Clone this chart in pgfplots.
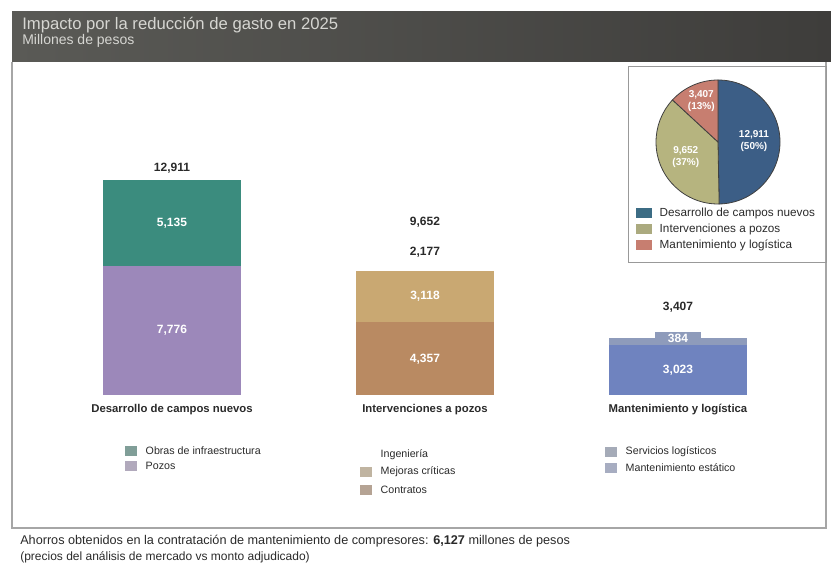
\documentclass[border=0pt]{standalone}
\usepackage{pgfplots}
\pgfplotsset{compat=1.18}
\usepackage{fontspec}
\setmainfont{Liberation Sans}
\definecolor{hdrL}{HTML}{5A5A56}
\definecolor{hdrR}{HTML}{3E3D3B}
\definecolor{hdrtext}{HTML}{D6D6D2}
\definecolor{cTeal}{HTML}{3B8C7E}
\definecolor{cPozos}{HTML}{9C88BA}
\definecolor{cMej}{HTML}{C9A872}
\definecolor{cCont}{HTML}{B98A62}
\definecolor{cMant}{HTML}{6F83BF}
\definecolor{cServ}{HTML}{8E9BBB}
\definecolor{pBlue}{HTML}{3C5E86}
\definecolor{pKhaki}{HTML}{B6B47F}
\definecolor{pRed}{HTML}{C77E70}
\definecolor{txt}{HTML}{2A2A2A}
\tikzset{
  vin/.style={font=\fontsize{9}{11}\selectfont\bfseries, text=white},
  vout/.style={font=\fontsize{9}{11}\selectfont\bfseries, text=txt},
  catl/.style={font=\fontsize{8.5}{10}\selectfont\bfseries, text=txt},
  lg/.style={anchor=west, font=\fontsize{8}{9.5}\selectfont, text=txt},
  plg/.style={anchor=west, font=\fontsize{8.8}{10}\selectfont, text=txt},
  pl/.style={font=\fontsize{7.5}{9}\selectfont\bfseries, text=white, align=center}
}
\pgfplotsset{barframe/.style={at={(34.125pt,132pt)}, anchor=south west, scale only axis,
  width=569.25pt, height=174.75pt, xmin=-0.5, xmax=2.5, ymin=0, ymax=14000,
  hide axis, clip=false}}
\begin{document}
\begin{tikzpicture}[x=0.75pt,y=0.75pt]
\path[use as bounding box] (0,0) rectangle (831,571);
% header
\shade[left color=hdrL, right color=hdrR] (12,559) rectangle (831,509);
\node[anchor=west, text=hdrtext, font=\fontsize{12.5}{14}\selectfont, inner sep=0] at (22,546) {Impacto por la reducción de gasto en 2025};
\node[anchor=west, text=hdrtext, font=\fontsize{10.5}{12}\selectfont, inner sep=0] at (22,530) {Millones de pesos};
% panel
\draw[black!35, line width=0.8pt] (12,509) -- (12,43) -- (826,43) -- (826,509);
% pie panel
\draw[black!40, line width=0.6pt] (628,505) rectangle (826,309);

% ---------- bars ----------
\begin{axis}[barframe, ybar stacked, bar width=103.5pt]
\addplot[fill=cPozos, draw=none] coordinates {(0,7776) (1,0) (2,0)};
\addplot[fill=cTeal, draw=none] coordinates {(0,5135) (1,0) (2,0)};
\addplot[fill=cCont, draw=none] coordinates {(0,0) (1,4357) (2,0)};
\addplot[fill=cMej, draw=none] coordinates {(0,0) (1,3118) (2,0)};
\addplot[fill=white, draw=none] coordinates {(0,0) (1,2177) (2,0)};
\addplot[fill=cMant, draw=none] coordinates {(0,0) (1,0) (2,3023)};
\addplot[fill=cServ, draw=none] coordinates {(0,0) (1,0) (2,384)};
\end{axis}
% labels on top of the bars (same frame)
\begin{axis}[barframe]
\addplot[draw=none, forget plot] coordinates {(0,0)};
\node[vin] at (axis cs:0,3888) {7,776};
\node[vin] at (axis cs:0,10343) {5,135};
\node[vin] at (axis cs:1,2178) {4,357};
\node[vin] at (axis cs:1,5916) {3,118};
\node[vin] at (axis cs:2,1511) {3,023};
\node[vin, fill=cServ, inner sep=1.5pt, minimum width=34pt] at (axis cs:2,3407) {384};
\node[vout] at (axis cs:1,8563) {2,177};
\node[vout, yshift=9pt] at (axis cs:0,12911) {12,911};
\node[vout, yshift=9pt] at (axis cs:1,9652) {9,652};
\node[vout, yshift=23pt] at (axis cs:2,3407) {3,407};
\node[catl, yshift=-11pt] at (axis cs:0,0) {Desarrollo de campos nuevos};
\node[catl, yshift=-11pt] at (axis cs:1,0) {Intervenciones a pozos};
\node[catl, yshift=-11pt] at (axis cs:2,0) {Mantenimiento y logística};
\end{axis}

% ---------- legends of bars ----------
\fill[cTeal!45!gray!80] (125,115) rectangle (137,125);
\node[lg] at (141,120) {Obras de infraestructura};
\fill[cPozos!55!gray!70] (125,100) rectangle (137,110);
\node[lg] at (141,105) {Pozos};

\node[lg] at (376,116) {Ingeniería};
\fill[cMej!50!gray!70] (360,94) rectangle (372,104);
\node[lg] at (376,99) {Mejoras críticas};
\fill[cCont!50!gray!75] (360,76) rectangle (372,86);
\node[lg] at (376,81) {Contratos};

\fill[cServ!55!gray!75] (605,114) rectangle (617,124);
\node[lg] at (621,119) {Servicios logísticos};
\fill[cMant!50!gray!65] (605,98) rectangle (617,108);
\node[lg] at (621,103) {Mantenimiento estático};

% ---------- pie (values in thousands) ----------
\pgfmathsetmacro\tot{12.911+9.652+3.407}
\pgfmathsetmacro\aA{360*12.911/\tot}
\pgfmathsetmacro\aB{360*9.652/\tot}
\pgfmathsetmacro\eA{90-\aA}
\pgfmathsetmacro\eB{90-\aA-\aB}
\begin{axis}[at={(538.5pt,321.75pt)}, anchor=center, scale only axis, width=93pt, height=93pt,
  xmin=-1, xmax=1, ymin=-1, ymax=1, hide axis, clip=false]
\addplot[draw=none, forget plot] coordinates {(0,0)};
\filldraw[fill=pBlue, draw=black!75, line width=0.6pt] (axis cs:0,0) -- ++(90:46.5pt) arc[start angle=90, end angle=\eA, radius=46.5pt] -- cycle;
\filldraw[fill=pKhaki, draw=black!75, line width=0.6pt] (axis cs:0,0) -- ++(\eA:46.5pt) arc[start angle=\eA, end angle=\eB, radius=46.5pt] -- cycle;
\filldraw[fill=pRed, draw=black!75, line width=0.6pt] (axis cs:0,0) -- ++(\eB:46.5pt) arc[start angle=\eB, end angle=-270, radius=46.5pt] -- cycle;
\node[pl] at (axis cs:0.58,0.02) {12,911\\(50\%)};
\node[pl] at (axis cs:-0.52,-0.25) {9,652\\(37\%)};
\node[pl] at (axis cs:-0.27,0.66) {3,407\\(13\%)};
\end{axis}
% pie legend
\fill[pBlue!70!cTeal] (636,353) rectangle (652,363);
\node[plg] at (655,358) {Desarrollo de campos nuevos};
\fill[pKhaki!80!gray] (636,337) rectangle (652,347);
\node[plg] at (655,342) {Intervenciones a pozos};
\fill[pRed] (636,321) rectangle (652,331);
\node[plg] at (655,326) {Mantenimiento y logística};

% footer
\node[anchor=west, font=\fontsize{9.5}{11}\selectfont, text=txt, inner sep=0] at (20,30) {Ahorros obtenidos en la contratación de mantenimiento de compresores: \textbf{6,127} millones de pesos};
\node[anchor=west, font=\fontsize{9}{10.5}\selectfont, text=txt, inner sep=0] at (20,14) {(precios del análisis de mercado vs monto adjudicado)};
\end{tikzpicture}
\end{document}
